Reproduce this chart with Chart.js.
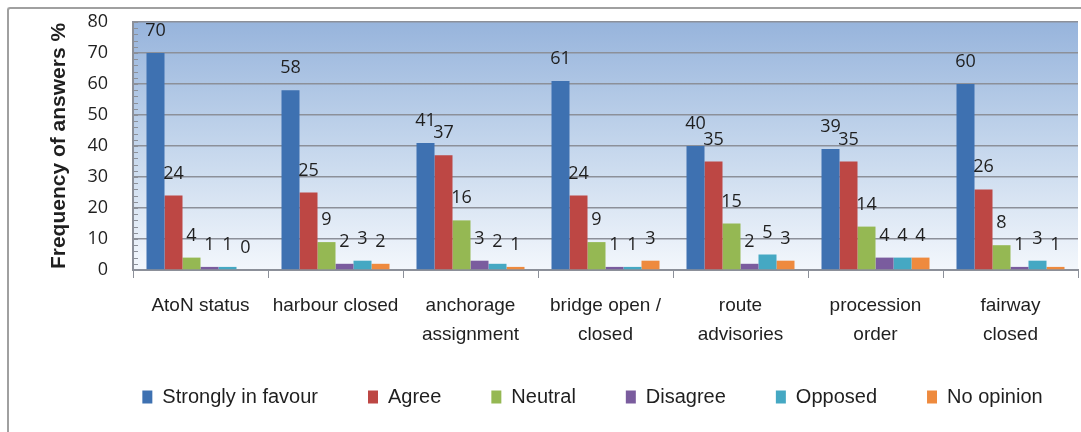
<!DOCTYPE html>
<html>
<head>
<meta charset="utf-8">
<script src="https://cdn.jsdelivr.net/npm/chart.js@4"></script>
<style>
  html, body { margin: 0; padding: 0; background: #fff; }
  #wrap { position: relative; width: 1081px; height: 432px; overflow: hidden; }
  #frame { position: absolute; left: 7px; top: 7px; width: 1090px; height: 440px;
           border-left: 2px solid #a0a0a0; border-top: 2px solid #a0a0a0; border-radius: 3px; }
  canvas { position: absolute; left: 0; top: 0; }
</style>
</head>
<body>
<div id="wrap">
  <div id="frame"></div>
  <canvas id="grafico" width="1081" height="432"></canvas>
</div>
<script>
// categorias do eixo x
const categorias = [
    'AtoN status',
    'harbour closed',
    ['anchorage', 'assignment'],
    ['bridge open /', 'closed'],
    ['route', 'advisories'],
    ['procession', 'order'],
    ['fairway', 'closed']
];

// valores por resposta (%)
const fortementeAFavor = [70, 58, 41, 61, 40, 39, 60];
const concordo        = [24, 25, 37, 24, 35, 35, 26];
const neutro          = [4, 9, 16, 9, 15, 14, 8];
const discordo        = [1, 2, 3, 1, 2, 4, 1];
const contra          = [1, 3, 2, 1, 5, 4, 3];
const semOpiniao      = [0, 2, 1, 3, 3, 4, 1];

const rotulosY = ['0', '10', '20', '30', '40', '50', '60', '70', '80'];

const corTexto = '#1f1f1f';

// fundo em degradê da área do gráfico
const fundoDegrade = {
    id: 'fundoDegrade',
    beforeDraw(chart) {
        const { ctx, chartArea: a } = chart;
        const g = ctx.createLinearGradient(0, a.top, 0, a.bottom);
        g.addColorStop(0, '#97b4dc');
        g.addColorStop(0.5, '#c4d6ec');
        g.addColorStop(1, '#f3f7fc');
        ctx.save();
        ctx.fillStyle = g;
        ctx.fillRect(a.left, a.top, a.right - a.left, a.bottom - a.top);
        ctx.restore();
    }
};

// ajusta a posição da legenda (mais à direita e um pouco acima)
const deslocaLegenda = {
    id: 'deslocaLegenda',
    afterLayout(chart) {
        const leg = chart.legend;
        leg.left += 50;
        leg.right += 50;
        leg.top -= 15;
        leg.bottom -= 15;
    }
};

// rótulos de valor acima das barras + marcas menores no eixo y
const rotulosBarras = {
    id: 'rotulosBarras',
    afterDatasetsDraw(chart) {
        const { ctx } = chart;
        ctx.save();
        ctx.font = '18px "Open Sans"';
        ctx.fillStyle = corTexto;
        ctx.textAlign = 'center';
        ctx.textBaseline = 'alphabetic';
        chart.data.datasets.forEach((ds, i) => {
            chart.getDatasetMeta(i).data.forEach((bar, j) => {
                ctx.fillText(String(ds.data[j]), bar.x, bar.y - 17);
            });
        });
        // marcas menores (a cada 2)
        const y = chart.scales.y;
        const esq = chart.chartArea.left;
        ctx.strokeStyle = '#8c9099';
        ctx.lineWidth = 1;
        for (let v = 0; v <= 80; v += 2) {
            const py = Math.round(y.getPixelForValue(v)) + 0.5;
            ctx.beginPath();
            ctx.moveTo(esq, py);
            ctx.lineTo(esq + 5, py);
            ctx.stroke();
        }
        ctx.restore();
    }
};

const ctx = document.getElementById('grafico');

new Chart(ctx, {
    type: 'bar',
    data: {
        labels: categorias,
        datasets: [
            { label: 'Strongly in favour', data: fortementeAFavor, backgroundColor: '#3e71b1' },
            { label: 'Agree', data: concordo, backgroundColor: '#bd4744' },
            { label: 'Neutral', data: neutro, backgroundColor: '#95b853' },
            { label: 'Disagree', data: discordo, backgroundColor: '#7a5c9e' },
            { label: 'Opposed', data: contra, backgroundColor: '#45a8c3' },
            { label: 'No opinion', data: semOpiniao, backgroundColor: '#ee8a3e' }
        ]
    },
    options: {
        responsive: false,
        animation: false,
        devicePixelRatio: 1,
        layout: {
            padding: { left: 7, right: 3, top: 22, bottom: 0 }
        },
        datasets: {
            bar: { categoryPercentage: 0.8, barPercentage: 1.0 }
        },
        scales: {
            x: {
                grid: {
                    offset: true,
                    drawOnChartArea: false,
                    color: '#8c9099',
                    tickLength: 8
                },
                border: { color: '#8c9099', width: 2 },
                ticks: {
                    color: corTexto,
                    font: { family: '"Liberation Sans", Arial', size: 19, lineHeight: 1.55 },
                    padding: 13,
                    maxRotation: 0,
                    autoSkip: false
                },
                afterFit(scale) { scale.height = 82; }
            },
            y: {
                min: 0,
                max: 80,
                ticks: {
                    stepSize: 10,
                    color: corTexto,
                    font: { family: '"Open Sans"', size: 18 },
                    padding: 4,
                    callback: (v) => rotulosY[v / 10]
                },
                grid: {
                    color: '#8c9099',
                    lineWidth: 1.5,
                    tickLength: 21,
                    tickColor: 'rgba(0,0,0,0)'
                },
                border: { color: '#8c9099', width: 2 },
                title: {
                    display: true,
                    text: 'Frequency of answers %',
                    color: corTexto,
                    font: { family: '"Liberation Sans", Arial', size: 21, weight: 'bold' },
                    padding: { top: 40, bottom: 0 }
                },
                afterFit(scale) { scale.width = 126; }
            }
        },
        plugins: {
            legend: {
                position: 'bottom',
                labels: {
                    color: corTexto,
                    boxWidth: 10,
                    boxHeight: 13,
                    padding: 50,
                    font: { family: '"Liberation Sans", Arial', size: 20 }
                }
            },
            tooltip: { enabled: false }
        }
    },
    plugins: [fundoDegrade, deslocaLegenda, rotulosBarras]
});
</script>
</body>
</html>
